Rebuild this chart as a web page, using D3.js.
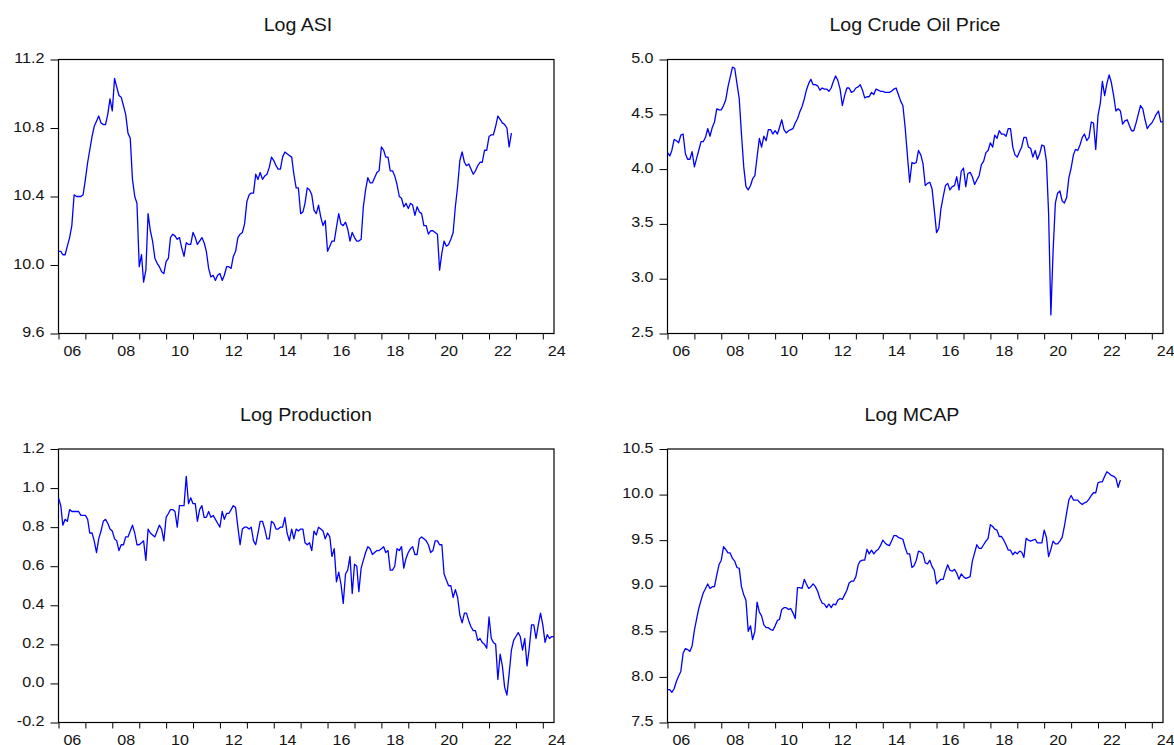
<!DOCTYPE html>
<html>
<head>
<meta charset="utf-8">
<script src="https://cdn.jsdelivr.net/npm/d3@7"></script>
<style>
  html, body { margin: 0; background: #fff; }
  svg text { font-family: 'Liberation Sans', Arial, sans-serif; fill: #141414; }
</style>
</head>
<body>
<svg id="chart" width="1174" height="745"></svg>
<script>
// monthly observations, first one is 2006M01
const firstMonth = new Date(Date.UTC(2006, 0, 1))
const lastMonth = new Date(Date.UTC(2024, 5, 1))
const tickYears = d3.range(2006, 2025)
const labelYears = [2006, 2008, 2010, 2012, 2014, 2016, 2018, 2020, 2022, 2024]

const titles = ['Log ASI', 'Log Crude Oil Price', 'Log Production', 'Log MCAP']

const asi = [
  10.08, 10.08, 10.06, 10.06, 10.11, 10.16, 10.23, 10.41, 10.40, 10.40, 10.40, 10.41,
  10.50, 10.60, 10.67, 10.75, 10.81, 10.84, 10.87, 10.83, 10.82, 10.82, 10.88, 10.97,
  10.90, 11.09, 11.04, 10.99, 10.98, 10.93, 10.88, 10.77, 10.74, 10.50, 10.40, 10.36,
  9.99, 10.06, 9.90, 9.97, 10.30, 10.20, 10.14, 10.04, 10.01, 9.99, 9.96, 9.95,
  10.02, 10.04, 10.16, 10.18, 10.17, 10.15, 10.16, 10.10, 10.05, 10.13, 10.12, 10.12,
  10.19, 10.16, 10.12, 10.14, 10.16, 10.13, 10.08, 9.98, 9.93, 9.94, 9.91, 9.94,
  9.95, 9.91, 9.94, 9.99, 9.99, 9.98, 10.05, 10.08, 10.16, 10.18, 10.19, 10.24,
  10.37, 10.41, 10.42, 10.42, 10.53, 10.50, 10.54, 10.50, 10.52, 10.53, 10.57, 10.63,
  10.61, 10.58, 10.56, 10.56, 10.63, 10.66, 10.65, 10.64, 10.63, 10.53, 10.45, 10.45,
  10.30, 10.31, 10.36, 10.45, 10.44, 10.41, 10.32, 10.30, 10.35, 10.28, 10.23, 10.26,
  10.08, 10.11, 10.14, 10.14, 10.22, 10.30, 10.24, 10.23, 10.25, 10.21, 10.14, 10.19,
  10.16, 10.14, 10.14, 10.15, 10.34, 10.44, 10.51, 10.48, 10.48, 10.51, 10.54, 10.55,
  10.69, 10.67, 10.63, 10.63, 10.55, 10.55, 10.52, 10.47, 10.40, 10.39, 10.34, 10.36,
  10.33, 10.36, 10.35, 10.29, 10.34, 10.31, 10.30, 10.23, 10.23, 10.18, 10.20, 10.20,
  10.19, 10.18, 9.97, 10.07, 10.14, 10.11, 10.12, 10.15, 10.19, 10.34, 10.46, 10.61,
  10.66, 10.60, 10.58, 10.59, 10.56, 10.53, 10.55, 10.58, 10.60, 10.60, 10.67, 10.67,
  10.75, 10.76, 10.76, 10.81, 10.87, 10.85, 10.83, 10.82, 10.80, 10.69, 10.77
]

const crudeOil = [
  4.15, 4.12, 4.17, 4.27, 4.26, 4.24, 4.31, 4.32, 4.14, 4.09, 4.09, 4.16,
  4.02, 4.10, 4.17, 4.25, 4.25, 4.29, 4.37, 4.30, 4.38, 4.43, 4.55, 4.54,
  4.54, 4.58, 4.63, 4.75, 4.84, 4.93, 4.92, 4.78, 4.64, 4.32, 4.02, 3.84,
  3.81, 3.85, 3.91, 3.94, 4.11, 4.28, 4.20, 4.30, 4.26, 4.36, 4.36, 4.32,
  4.35, 4.32, 4.38, 4.45, 4.36, 4.33, 4.35, 4.36, 4.37, 4.42, 4.46, 4.52,
  4.57, 4.64, 4.72, 4.78, 4.82, 4.77, 4.77, 4.76, 4.72, 4.74, 4.73, 4.73,
  4.71, 4.74, 4.80, 4.85, 4.81, 4.73, 4.58, 4.67, 4.74, 4.74, 4.70, 4.71,
  4.74, 4.75, 4.77, 4.72, 4.65, 4.66, 4.66, 4.70, 4.68, 4.73, 4.72, 4.71,
  4.71, 4.70, 4.70, 4.70, 4.71, 4.73, 4.74, 4.68, 4.62, 4.58, 4.38, 4.13,
  3.88, 4.06, 4.05, 4.06, 4.17, 4.13, 4.05, 3.85, 3.87, 3.88, 3.82, 3.63,
  3.42, 3.46, 3.64, 3.75, 3.85, 3.87, 3.81, 3.84, 3.85, 3.93, 3.81, 3.98,
  4.01, 3.84, 3.96, 3.97, 3.93, 3.86, 3.90, 3.94, 4.04, 4.07, 4.15, 4.17,
  4.24, 4.20, 4.31, 4.28, 4.35, 4.32, 4.32, 4.30, 4.37, 4.37, 4.20, 4.13,
  4.11, 4.16, 4.20, 4.29, 4.29, 4.20, 4.19, 4.11, 4.17, 4.09, 4.14, 4.22,
  4.21, 4.07, 3.60, 2.67, 3.25, 3.69, 3.78, 3.80, 3.71, 3.69, 3.74, 3.92,
  4.01, 4.13, 4.18, 4.17, 4.22, 4.29, 4.32, 4.26, 4.29, 4.43, 4.42, 4.18,
  4.49, 4.60, 4.80, 4.67, 4.78, 4.86, 4.79, 4.67, 4.53, 4.55, 4.53, 4.41,
  4.44, 4.45, 4.40, 4.35, 4.35, 4.42, 4.50, 4.58, 4.55, 4.45, 4.37, 4.40,
  4.42, 4.46, 4.50, 4.53, 4.43, 4.43
]

const production = [
  0.95, 0.91, 0.81, 0.84, 0.83, 0.89, 0.88, 0.88, 0.88, 0.88, 0.86, 0.86,
  0.86, 0.84, 0.77, 0.77, 0.73, 0.67, 0.74, 0.78, 0.83, 0.84, 0.82, 0.79,
  0.78, 0.74, 0.73, 0.68, 0.71, 0.71, 0.75, 0.75, 0.78, 0.81, 0.77, 0.71,
  0.71, 0.72, 0.73, 0.63, 0.79, 0.77, 0.76, 0.75, 0.78, 0.81, 0.79, 0.73,
  0.85, 0.87, 0.89, 0.89, 0.88, 0.80, 0.91, 0.91, 0.91, 1.06, 0.92, 0.95,
  0.92, 0.92, 0.83, 0.89, 0.91, 0.85, 0.85, 0.88, 0.85, 0.86, 0.84, 0.82,
  0.80, 0.88, 0.84, 0.87, 0.87, 0.89, 0.91, 0.90, 0.80, 0.71, 0.79, 0.80,
  0.80, 0.79, 0.80, 0.73, 0.71, 0.77, 0.83, 0.83, 0.79, 0.74, 0.74, 0.83,
  0.82, 0.79, 0.79, 0.80, 0.80, 0.85, 0.77, 0.73, 0.79, 0.74, 0.79, 0.78,
  0.79, 0.79, 0.72, 0.71, 0.72, 0.68, 0.78, 0.76, 0.80, 0.79, 0.78, 0.74,
  0.77, 0.75, 0.65, 0.69, 0.52, 0.57, 0.51, 0.41, 0.56, 0.58, 0.65, 0.46,
  0.61, 0.60, 0.47, 0.59, 0.63, 0.67, 0.70, 0.69, 0.66, 0.67, 0.68, 0.68,
  0.69, 0.70, 0.67, 0.68, 0.58, 0.58, 0.60, 0.69, 0.68, 0.70, 0.59, 0.64,
  0.67, 0.69, 0.70, 0.66, 0.66, 0.74, 0.75, 0.74, 0.73, 0.71, 0.67, 0.68,
  0.73, 0.73, 0.71, 0.71, 0.56, 0.53, 0.50, 0.50, 0.44, 0.48, 0.44, 0.35,
  0.31, 0.36, 0.36, 0.32, 0.29, 0.27, 0.27, 0.22, 0.23, 0.21, 0.20, 0.18,
  0.34, 0.23, 0.21, 0.20, 0.02, 0.15, 0.09, -0.02, -0.06, 0.05, 0.17, 0.22,
  0.24, 0.26, 0.24, 0.17, 0.23, 0.09, 0.18, 0.30, 0.30, 0.23, 0.30, 0.36,
  0.30, 0.21, 0.25, 0.23, 0.24, 0.24
]

const mcap = [
  7.86, 7.86, 7.83, 7.87, 7.95, 8.01, 8.06, 8.26, 8.31, 8.30, 8.28, 8.34,
  8.51, 8.64, 8.75, 8.84, 8.92, 8.97, 9.02, 8.97, 8.99, 8.99, 9.12, 9.23,
  9.28, 9.43, 9.40, 9.36, 9.36, 9.30, 9.27, 9.20, 9.19, 8.99, 8.90, 8.84,
  8.50, 8.56, 8.41, 8.50, 8.82, 8.71, 8.67, 8.57, 8.54, 8.54, 8.52, 8.51,
  8.56, 8.62, 8.63, 8.74, 8.76, 8.76, 8.74, 8.75, 8.70, 8.64, 8.98, 8.98,
  8.97, 9.07, 9.02, 8.97, 8.99, 9.02, 8.99, 8.94, 8.86, 8.81, 8.80, 8.76,
  8.80, 8.76, 8.80, 8.79, 8.84, 8.86, 8.85, 8.90, 8.95, 9.03, 9.05, 9.05,
  9.10, 9.23, 9.27, 9.28, 9.28, 9.40, 9.35, 9.39, 9.35, 9.38, 9.40, 9.44,
  9.50, 9.47, 9.45, 9.44, 9.49, 9.55, 9.55, 9.53, 9.52, 9.51, 9.42, 9.35,
  9.35, 9.20, 9.22, 9.28, 9.38, 9.37, 9.35, 9.25, 9.24, 9.28, 9.21, 9.17,
  9.02, 9.05, 9.07, 9.07, 9.16, 9.23, 9.17, 9.16, 9.18, 9.14, 9.07, 9.13,
  9.10, 9.08, 9.09, 9.10, 9.27, 9.36, 9.45, 9.41, 9.41, 9.45, 9.49, 9.52,
  9.67, 9.65, 9.62, 9.61, 9.54, 9.54, 9.50, 9.45, 9.39, 9.39, 9.34, 9.37,
  9.35, 9.38, 9.37, 9.31, 9.52, 9.50, 9.49, 9.50, 9.51, 9.47, 9.47, 9.47,
  9.61, 9.53, 9.32, 9.40, 9.49, 9.46, 9.46, 9.49, 9.53, 9.65, 9.80, 9.94,
  9.99, 9.94, 9.94, 9.94, 9.91, 9.89, 9.91, 9.92, 9.95, 9.99, 10.02, 10.02,
  10.13, 10.14, 10.14, 10.20, 10.25, 10.23, 10.21, 10.20, 10.18, 10.08, 10.16
]

const asiTicks = [9.6, 10.0, 10.4, 10.8, 11.2]
const crudeTicks = [2.5, 3.0, 3.5, 4.0, 4.5, 5.0]
const productionTicks = [-0.2, 0.0, 0.2, 0.4, 0.6, 0.8, 1.0, 1.2]
const mcapTicks = [7.5, 8.0, 8.5, 9.0, 9.5, 10.0, 10.5]

const panels = [
  { title: titles[0], values: asi, ticks: asiTicks, left: 58.5, top: 59.5, right: 554, bottom: 333.5, titleX: 298 },
  { title: titles[1], values: crudeOil, ticks: crudeTicks, left: 667.5, top: 59.5, right: 1163, bottom: 333.5, titleX: 915 },
  { title: titles[2], values: production, ticks: productionTicks, left: 58.5, top: 449, right: 554, bottom: 722.5, titleX: 306 },
  { title: titles[3], values: mcap, ticks: mcapTicks, left: 667.5, top: 449, right: 1163, bottom: 722.5, titleX: 912 }
]

const svg = d3.select('#chart')

const monthDate = i => new Date(Date.UTC(2006, i, 1))

// stretch text a little wider, the source picture is widened horizontally
const widen = (selection, factor) =>
  selection.each(function () {
    const w = this.getComputedTextLength()
    d3.select(this).attr('textLength', w * factor).attr('lengthAdjust', 'spacingAndGlyphs')
  })

const drawPanel = p => {
  const g = svg.append('g')

  const xScale = d3.scaleUtc().domain([firstMonth, lastMonth]).range([p.left, p.right])
  const yScale = d3.scaleLinear().domain(d3.extent(p.ticks)).range([p.bottom, p.top])

  g.append('rect')
    .attr('x', p.left)
    .attr('y', p.top)
    .attr('width', p.right - p.left)
    .attr('height', p.bottom - p.top)
    .attr('fill', 'none')
    .attr('stroke', '#000')
    .attr('stroke-width', 1.2)

  const xTicks = g
    .append('g')
    .attr('transform', `translate(0,${p.bottom})`)
    .call(
      d3
        .axisBottom(xScale)
        .tickValues(tickYears.map(yr => new Date(Date.UTC(yr, 0, 1))))
        .tickSize(6)
        .tickFormat('')
    )
  xTicks.select('.domain').remove()

  const xLabels = g
    .append('g')
    .attr('transform', `translate(0,${p.bottom})`)
    .call(
      d3
        .axisBottom(xScale)
        .tickValues(labelYears.map(yr => new Date(Date.UTC(yr, 6, 1))))
        .tickSize(0)
        .tickPadding(12.5)
        .tickFormat(d3.utcFormat('%y'))
    )
  xLabels.select('.domain').remove()
  xLabels.selectAll('text').attr('font-size', 14).attr('font-family', null).call(widen, 1.15)

  const yAxis = g
    .append('g')
    .attr('transform', `translate(${p.left},0)`)
    .call(
      d3
        .axisLeft(yScale)
        .tickValues(p.ticks)
        .tickSize(8)
        .tickPadding(6)
        .tickFormat(d => d.toFixed(1))
    )
  yAxis.select('.domain').remove()
  yAxis
    .selectAll('text')
    .attr('font-size', 14)
    .attr('font-family', null)
    .attr('dy', '0.22em')
    .call(widen, 1.15)

  g.selectAll('.tick line').attr('stroke', '#000')

  const line = d3
    .line()
    .x((d, i) => xScale(monthDate(i)))
    .y(d => yScale(d))

  g.append('path')
    .datum(p.values)
    .attr('d', line)
    .attr('fill', 'none')
    .attr('stroke', '#0000ff')
    .attr('stroke-width', 1.3)
    .attr('stroke-linejoin', 'round')

  g.append('text')
    .attr('x', p.titleX)
    .attr('y', p.top - 28.5)
    .attr('text-anchor', 'middle')
    .attr('font-size', 17.5)
    .text(p.title)
    .call(widen, 1.12)
}

panels.forEach(drawPanel)
</script>
</body>
</html>
